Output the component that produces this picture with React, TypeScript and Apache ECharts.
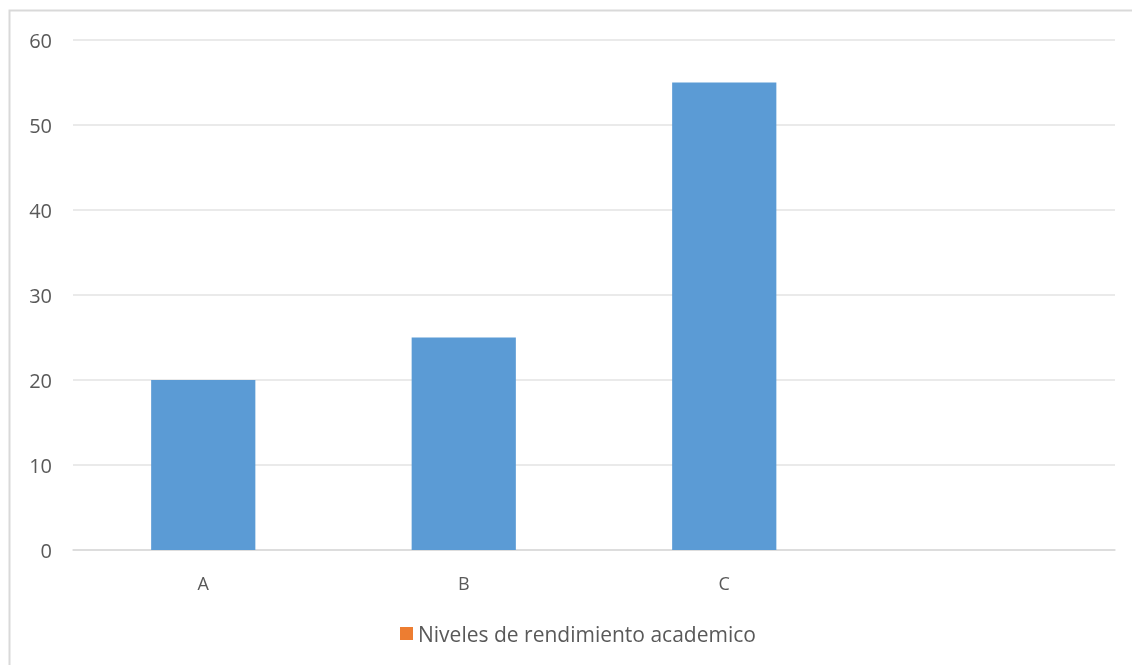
import React, { useEffect, useRef } from "react";
import * as echarts from "echarts";

const categories = ["A", "B", "C", ""];
const values = [20, 25, 55, null];
const legendName = "Niveles de rendimiento academico";
const yTicks = { min: 0, max: 60, interval: 10 };

export default function App() {
  const ref = useRef<HTMLDivElement>(null);
  useEffect(() => {
    const chart = echarts.init(ref.current!, null, { renderer: "svg" });
    chart.setOption({
      animation: false,
      textStyle: { fontFamily: "Open Sans" },
      graphic: [
        {
          type: "rect",
          shape: { x: 9.5, y: 10.5, width: 1140, height: 680 },
          style: { fill: "none", stroke: "#d9d9d9", lineWidth: 2 },
          silent: true,
        },
      ],
      grid: { left: 73, right: 17, top: 40, bottom: 115, containLabel: false },
      legend: {
        data: [legendName],
        bottom: 16,
        left: 395,
        itemWidth: 13,
        itemHeight: 13,
        itemGap: 6,
        icon: "rect",
        textStyle: { fontSize: 21, color: "#595959", fontFamily: "Open Sans" },
      },
      xAxis: {
        type: "category",
        data: categories,
        axisLine: { show: true, lineStyle: { color: "#d9d9d9", width: 1.5 } },
        axisTick: { show: false },
        axisLabel: { fontSize: 18, color: "#595959", margin: 24 },
      },
      yAxis: {
        type: "value",
        min: yTicks.min,
        max: yTicks.max,
        interval: yTicks.interval,
        axisLine: { show: false },
        axisTick: { show: false },
        axisLabel: { fontSize: 20, color: "#595959", margin: 21 },
        splitLine: { lineStyle: { color: "#e3e3e3", width: 1.5 } },
      },
      series: [
        {
          name: "Valores",
          type: "bar",
          data: values,
          stack: "s",
          barWidth: "40%",
          itemStyle: { color: "#5B9BD5" },
        },
        {
          name: legendName,
          type: "bar",
          data: [],
          stack: "s",
          barWidth: "40%",
          itemStyle: { color: "#ED7D31" },
        },
      ],
    });
    return () => chart.dispose();
  }, []);
  return (
    <div
      ref={ref}
      style={{ position: "fixed", left: 0, top: 0, width: 1132, height: 665 }}
    />
  );
}
